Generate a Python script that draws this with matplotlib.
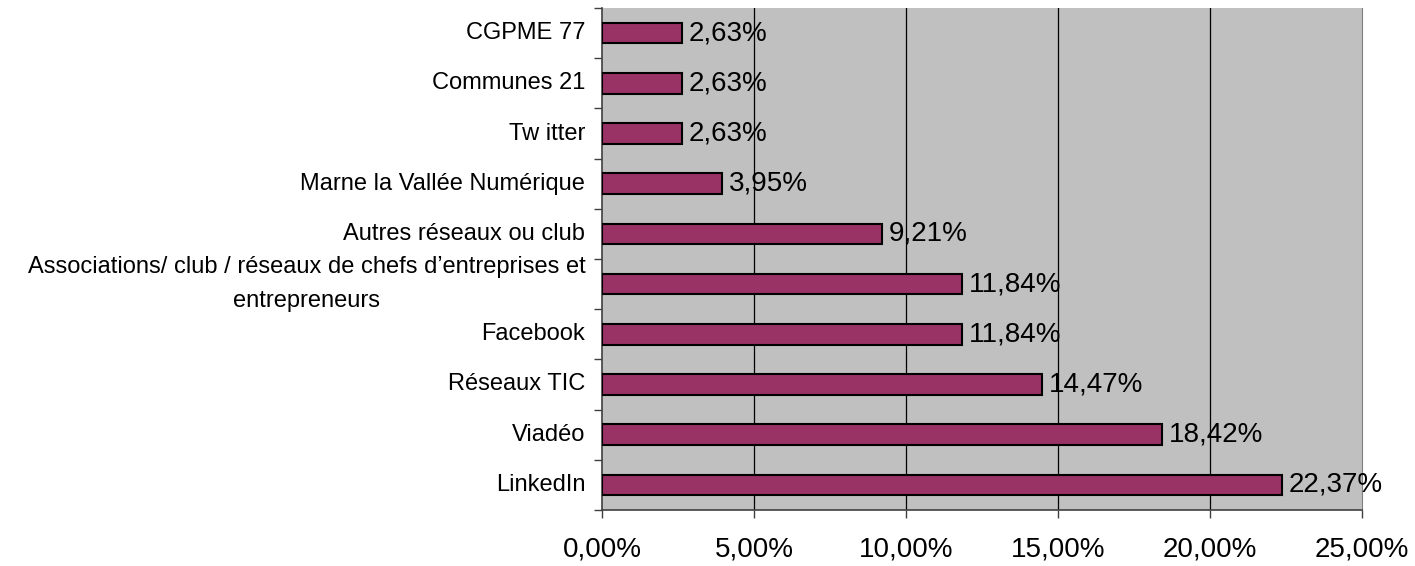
import matplotlib
matplotlib.use("Agg")
import matplotlib.pyplot as plt
from matplotlib.ticker import FuncFormatter, FixedLocator

plt.rcParams['font.family'] = ['Liberation Sans', 'DejaVu Sans']

categories = ["LinkedIn", "Viadéo", "Réseaux TIC", "Facebook",
              "Associations/ club / réseaux de chefs d\u2019entreprises et\nentrepreneurs",
              "Autres réseaux ou club", "Marne la Vallée Numérique", "Tw itter",
              "Communes 21", "CGPME 77"]
values = [22.37, 18.42, 14.47, 11.84, 11.84, 9.21, 3.95, 2.63, 2.63, 2.63]
xticks = [0, 5, 10, 15, 20, 25]

def pct(v):
    return f"{v:.2f}%".replace(".", ",")

fig = plt.figure(figsize=(14.15, 5.66), dpi=100)
ax = fig.add_axes([602/1415, 56/566, 760/1415, 502/566])
ax.set_facecolor("#C0C0C0")

ypos = list(range(len(categories)))
ax.barh(ypos, values, height=0.41, color="#993366", edgecolor="black", linewidth=1.5, zorder=3)
for y, v in zip(ypos, values):
    ax.text(v + 0.22, y, pct(v), va="center", ha="left", fontsize=20, zorder=4)

ax.set_xlim(0, 25)
ax.set_ylim(-0.5, len(categories) - 0.5)
ax.set_xticks(xticks)
ax.xaxis.set_major_formatter(FuncFormatter(lambda v, p: pct(v)))
ax.tick_params(axis="x", length=6, width=1, pad=13, labelsize=20, color="#404040")
for x in xticks[1:-1]:
    ax.axvline(x, color="black", linewidth=0.9, zorder=1)

ax.yaxis.set_major_locator(FixedLocator([y - 0.5 for y in range(len(categories) + 1)]))
ax.set_yticklabels([])
ax.tick_params(axis="y", length=6, width=1, color="#404040")
for y, c in zip(ypos, categories):
    ax.text(-0.55, y, c, ha="right", va="center", fontsize=17, multialignment="center",
            linespacing=1.75, transform=ax.transData, clip_on=False)

ax.spines["top"].set_visible(False)
ax.spines["right"].set_color("#808080")
ax.spines["left"].set_color("#404040")
ax.spines["bottom"].set_color("#404040")
ax.spines["left"].set_linewidth(1.2)
ax.spines["bottom"].set_linewidth(1.2)

fig.savefig("out.png", dpi=100)
